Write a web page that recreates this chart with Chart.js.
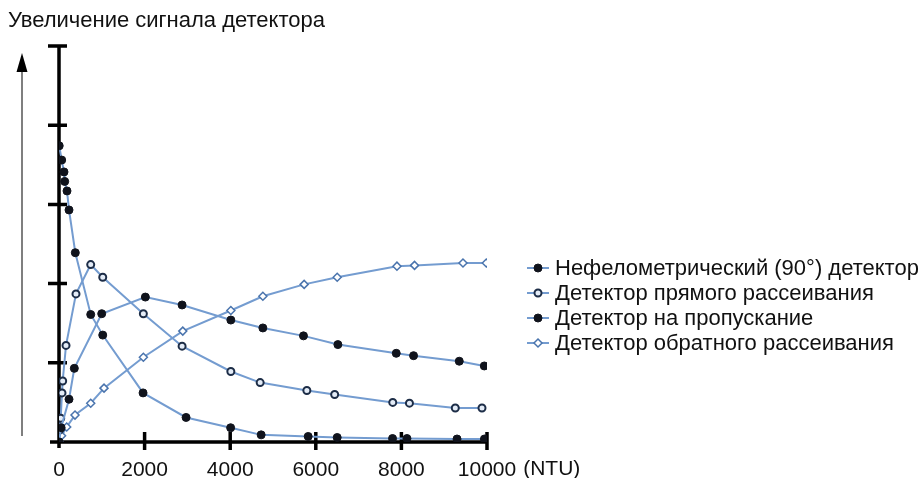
<!DOCTYPE html>
<html>
<head>
<meta charset="utf-8">
<script src="https://cdn.jsdelivr.net/npm/chart.js@4.4.1/dist/chart.umd.min.js"></script>
<style>
    html, body { margin: 0; padding: 0; background: #fff; }
    #wrap { position: relative; width: 922px; height: 478px; }
</style>
</head>
<body>
<div id="wrap"><canvas id="chart" width="922" height="478"></canvas></div>
<script>
// Axis ticks
const xTickValues = [0, 2000, 4000, 6000, 8000, 10000];
const xTickLabels = ['0', '2000', '4000', '6000', '8000', '10000'];
const xUnit = '(NTU)';
const yTickValues = [1, 2, 3, 4, 5];
const yTitle = 'Увеличение сигнала детектора';

// Series names (legend order)
const seriesNames = [
    'Нефелометрический (90°) детектор',
    'Детектор прямого рассеивания',
    'Детектор на пропускание',
    'Детектор обратного рассеивания'
];

// Nephelometric (90°) detector
const nephNTU = [0, 50, 234, 358, 998, 2018, 2876, 4015, 4763, 5712, 6516, 7880, 8284, 9352, 9937];
const nephSignal = [0, 0.18, 0.54, 0.93, 1.62, 1.83, 1.73, 1.54, 1.44, 1.34, 1.23, 1.12, 1.09, 1.02, 0.96];

// Forward scatter detector
const fwdNTU = [0, 10, 40, 70, 86, 164, 397, 741, 1022, 1971, 2876, 4015, 4700, 5791, 6441, 7798, 8188, 9259, 9883];
const fwdSignal = [0, 0.15, 0.3, 0.62, 0.77, 1.22, 1.87, 2.24, 2.08, 1.62, 1.21, 0.89, 0.75, 0.65, 0.60, 0.50, 0.49, 0.43, 0.43];

// Transmission detector
const transNTU = [5, 63, 117, 133, 187, 234, 381, 741, 1022, 1964, 2969, 4010, 4723, 5822, 6500, 7793, 8130, 9300, 9940];
const transSignal = [3.74, 3.56, 3.41, 3.29, 3.17, 2.93, 2.39, 1.61, 1.35, 0.62, 0.31, 0.18, 0.09, 0.07, 0.057, 0.044, 0.044, 0.038, 0.038];

// Backscatter detector
const backNTU = [0, 60, 180, 374, 741, 1052, 1971, 2892, 4015, 4763, 5728, 6500, 7896, 8307, 9439, 9984];
const backSignal = [0, 0.08, 0.19, 0.34, 0.49, 0.68, 1.07, 1.40, 1.66, 1.84, 1.99, 2.08, 2.22, 2.23, 2.26, 2.26];

const FONT = '"Liberation Sans", Arial, sans-serif';
const lineColor = 'rgb(116, 156, 208)';

function toPoints(xs, ys) {
    return xs.map((x, i) => ({ x: x, y: ys[i] }));
}

const markerStyles = [
    { pointStyle: 'circle', radius: 4, fill: '#10131c', stroke: '#10131c', width: 1 },
    { pointStyle: 'circle', radius: 3.5, fill: '#e4ecf7', stroke: '#1d2d47', width: 2 },
    { pointStyle: 'circle', radius: 4, fill: '#10131c', stroke: '#10131c', width: 1 },
    { pointStyle: 'rectRot', radius: 4, fill: '#ffffff', stroke: '#4a74ad', width: 1.5 }
];

const seriesData = [
    toPoints(nephNTU, nephSignal),
    toPoints(fwdNTU, fwdSignal),
    toPoints(transNTU, transSignal),
    toPoints(backNTU, backSignal)
];

const datasets = seriesData.map((data, i) => ({
    label: seriesNames[i],
    data: data,
    borderColor: lineColor,
    borderWidth: 2,
    tension: 0,
    pointStyle: markerStyles[i].pointStyle,
    pointRadius: markerStyles[i].radius,
    pointBackgroundColor: markerStyles[i].fill,
    pointBorderColor: markerStyles[i].stroke,
    pointBorderWidth: markerStyles[i].width,
    fill: false
}));

// Axes with crossing ticks, arrow, title, unit and legend
const decorPlugin = {
    id: 'decor',
    beforeDatasetsDraw(chart) {
        const ctx = chart.ctx;
        const xs = chart.scales.x, ys = chart.scales.y;
        const x0 = xs.getPixelForValue(0), y0 = ys.getPixelForValue(0);
        const xEnd = xs.getPixelForValue(xTickValues[xTickValues.length - 1]);
        const yTop = ys.getPixelForValue(yTickValues[yTickValues.length - 1]);
        ctx.save();
        ctx.strokeStyle = '#000';
        ctx.lineCap = 'butt';
        ctx.lineWidth = 3.5;
        // axis lines
        ctx.beginPath();
        ctx.moveTo(x0 - 9, y0);
        ctx.lineTo(xEnd, y0);
        ctx.moveTo(x0, y0 + 6);
        ctx.lineTo(x0, yTop);
        ctx.stroke();
        // crossing ticks
        ctx.lineWidth = 3.5;
        ctx.beginPath();
        xTickValues.slice(1).forEach(v => {
            const px = xs.getPixelForValue(v);
            ctx.moveTo(px, y0 - 10);
            ctx.lineTo(px, y0 + 8);
        });
        yTickValues.forEach(v => {
            const py = ys.getPixelForValue(v);
            ctx.moveTo(x0 - 11, py);
            ctx.lineTo(x0 + 8, py);
        });
        ctx.stroke();

        // side arrow
        ctx.strokeStyle = '#555';
        ctx.lineWidth = 1.5;
        ctx.beginPath();
        ctx.moveTo(22, 436);
        ctx.lineTo(22, 68);
        ctx.stroke();
        ctx.fillStyle = '#000';
        ctx.beginPath();
        ctx.moveTo(22, 53);
        ctx.lineTo(16.5, 72);
        ctx.lineTo(27.5, 72);
        ctx.closePath();
        ctx.fill();
        ctx.restore();
    },
    afterDraw(chart) {
        const ctx = chart.ctx;
        const xs = chart.scales.x;
        ctx.save();
        ctx.fillStyle = '#111';
        ctx.textBaseline = 'middle';

        // chart title
        ctx.font = '22px ' + FONT;
        ctx.textAlign = 'left';
        ctx.fillText(yTitle, 8, 21);

        // unit after the last tick label
        ctx.font = '21px ' + FONT;
        const lastPx = xs.getPixelForValue(xTickValues[xTickValues.length - 1]);
        const lastW = ctx.measureText(xTickLabels[xTickLabels.length - 1]).width;
        ctx.fillText(xUnit, lastPx + lastW / 2 + 7, 469);

        // legend
        ctx.font = '22px ' + FONT;
        seriesNames.forEach((name, i) => {
            const y = 268 + i * 25;
            ctx.strokeStyle = lineColor;
            ctx.lineWidth = 2;
            ctx.beginPath();
            ctx.moveTo(527, y);
            ctx.lineTo(549, y);
            ctx.stroke();
            const m = markerStyles[i];
            ctx.fillStyle = m.fill;
            ctx.strokeStyle = m.stroke;
            ctx.lineWidth = m.width;
            ctx.beginPath();
            if (m.pointStyle === 'rectRot') {
                ctx.moveTo(538, y - 4);
                ctx.lineTo(542, y);
                ctx.lineTo(538, y + 4);
                ctx.lineTo(534, y);
                ctx.closePath();
            } else {
                ctx.arc(538, y, m.radius, 0, Math.PI * 2);
            }
            ctx.fill();
            ctx.stroke();
            ctx.fillStyle = '#111';
            ctx.fillText(name, 555, y + 1);
        });
        ctx.restore();
    }
};

new Chart(document.getElementById('chart'), {
    type: 'line',
    data: { datasets: datasets },
    options: {
        responsive: false,
        animation: false,
        layout: { padding: { left: 59, top: 46, right: 435, bottom: 0 } },
        plugins: {
            legend: { display: false },
            tooltip: { enabled: false }
        },
        scales: {
            x: {
                type: 'linear',
                min: 0,
                max: 10000,
                grid: { display: false },
                border: { display: false },
                afterBuildTicks(scale) {
                    scale.ticks = xTickValues.map(v => ({ value: v }));
                },
                afterFit(scale) { scale.height = 478 - 442; },
                ticks: {
                    autoSkip: false,
                    maxRotation: 0,
                    padding: 8,
                    color: '#111',
                    font: { family: FONT, size: 21 },
                    callback: (v) => xTickLabels[xTickValues.indexOf(v)]
                }
            },
            y: {
                min: 0,
                max: 5,
                display: false
            }
        }
    },
    plugins: [decorPlugin]
});
</script>
</body>
</html>
